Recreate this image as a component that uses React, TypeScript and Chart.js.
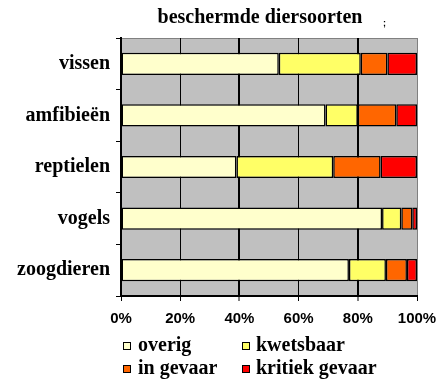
import React, { useEffect, useRef } from "react";
import { Chart, registerables } from "chart.js";

Chart.register(...registerables);

const categories = ["vissen", "amfibieën", "reptielen", "vogels", "zoogdieren"];
const seriesNames = ["overig", "kwetsbaar", "in gevaar", "kritiek gevaar"];
const overig = [53.3, 69.1, 39, 88.2, 77];
const kwetsbaar = [27.7, 10.9, 32.7, 6.5, 12.5];
const inGevaar = [9, 13, 16, 3.7, 7.1];
const kritiek = [10, 7, 12.3, 1.6, 3.4];
const xTicks = [0, 20, 40, 60, 80, 100];
const colors = ["#FFFFCC", "#FFFF66", "#FF6600", "#FF0000"];
const title = "beschermde diersoorten";

const SERIF = "'Liberation Serif', 'Times New Roman', serif";
const SANS = "'Liberation Sans', Arial, sans-serif";

const decorPlugin = {
  id: "decor",
  beforeDraw(chart: any) {
    const { ctx, chartArea: a } = chart;
    ctx.save();
    ctx.fillStyle = "#ffffff";
    ctx.fillRect(0, 0, chart.width, chart.height);
    ctx.fillStyle = "#C0C0C0";
    ctx.fillRect(a.left, a.top, a.right - a.left, a.bottom - a.top);
    ctx.strokeStyle = "#808080";
    ctx.lineWidth = 1;
    ctx.beginPath();
    ctx.moveTo(a.left, a.top + 0.5);
    ctx.lineTo(a.right + 0.5, a.top + 0.5);
    ctx.lineTo(a.right + 0.5, a.bottom);
    ctx.stroke();
    ctx.restore();
  },
  afterDraw(chart: any) {
    const { ctx } = chart;
    ctx.save();
    ctx.fillStyle = "#000";
    ctx.font = `bold 20px ${SERIF}`;
    ctx.textAlign = "center";
    ctx.textBaseline = "alphabetic";
    ctx.fillText(title, 260, 23);
    ctx.font = `bold 9px ${SANS}`;
    ctx.textAlign = "left";
    ctx.fillText(";", 383, 26);
    // legend 2x2
    const pos = [
      [123, 342, 138, 351],
      [242, 342, 256, 351],
      [123, 365, 138, 374],
      [242, 365, 256, 374],
    ];
    chart.data.datasets.forEach((ds: any, i: number) => {
      const [bx, by, tx, ty] = pos[i];
      ctx.fillStyle = ds.backgroundColor;
      ctx.fillRect(bx, by, 7, 7);
      ctx.strokeStyle = "#000";
      ctx.lineWidth = 1;
      ctx.strokeRect(bx + 0.5, by + 0.5, 7, 7);
      ctx.fillStyle = "#000";
      ctx.font = `bold 20px ${SERIF}`;
      ctx.textAlign = "left";
      ctx.textBaseline = "alphabetic";
      ctx.fillText(ds.label, tx, ty);
    });
    ctx.restore();
  },
};

export default function App() {
  const ref = useRef<HTMLCanvasElement>(null);
  useEffect(() => {
    if (!ref.current) return;
    const values = [overig, kwetsbaar, inGevaar, kritiek];
    const chart = new Chart(ref.current, {
      type: "bar",
      data: {
        labels: categories,
        datasets: seriesNames.map((name, i) => ({
          label: name,
          data: values[i],
          backgroundColor: colors[i],
          borderColor: "#000",
          borderWidth: 1.5,
          borderSkipped: false,
          categoryPercentage: 1,
          barPercentage: 0.43,
        })),
      },
      options: {
        indexAxis: "y",
        responsive: false,
        animation: false,
        devicePixelRatio: 1,
        layout: { padding: { top: 38, right: 25, left: 0, bottom: 0 } },
        plugins: {
          legend: { display: false },
          title: { display: false },
          tooltip: { enabled: false },
        },
        scales: {
          x: {
            stacked: true,
            min: 0,
            max: 100,
            afterFit: (s: any) => {
              s.height = 87;
              s.paddingRight = 0;
            },
            afterBuildTicks: (s: any) => {
              s.ticks = xTicks.map((v) => ({ value: v }));
            },
            ticks: {
              callback: (v: any) => v + "%",
              color: "#000",
              font: { family: SANS, weight: "bold", size: 15 },
              padding: 9,
              maxRotation: 0,
            },
            grid: {
              color: (c: any) => (c.tick && c.tick.value === 100 ? "#808080" : "#000"),
              lineWidth: (c: any) =>
                c.tick && (c.tick.value === 40 || c.tick.value === 80) ? 2 : 1,
              tickLength: 5,
              tickColor: "#000",
              tickWidth: 1,
            },
            border: { display: true, color: "#000", width: 2 },
          },
          y: {
            stacked: true,
            afterFit: (s: any) => {
              s.width = 121;
            },
            ticks: {
              color: "#000",
              font: { family: SERIF, weight: "bold", size: 20 },
              padding: 6,
            },
            grid: {
              offset: true,
              drawOnChartArea: false,
              tickLength: 5,
              tickColor: "#000",
              tickWidth: 1,
            },
            border: { display: true, color: "#000", width: 2 },
          },
        },
      },
      plugins: [decorPlugin],
    } as any);
    return () => chart.destroy();
  }, []);
  return (
    <div style={{ position: "fixed", left: 0, top: 0, width: 442, height: 383 }}>
      <canvas ref={ref} width={442} height={383} style={{ width: 442, height: 383 }} />
    </div>
  );
}
